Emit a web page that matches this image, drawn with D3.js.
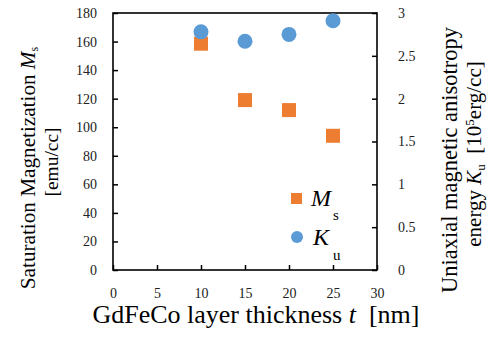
<!DOCTYPE html>
<html>
<head>
<meta charset="utf-8">
<script src="https://cdn.jsdelivr.net/npm/d3@7"></script>
<style>
  body { margin: 0; background: #fff; }
  text { font-family: "Liberation Serif", "Times New Roman", serif; }
</style>
</head>
<body>
<div id="chart"></div>
<script>
    // data
    var thickness = [10, 15, 20, 25];
    var msValues = [158.5, 119, 112, 94];
    var kuValues = [2.78, 2.67, 2.75, 2.91];
    var xTicks = [0, 5, 10, 15, 20, 25, 30];
    var yLeftTicks = [0, 20, 40, 60, 80, 100, 120, 140, 160, 180];
    var yRightTicks = [0, 0.5, 1, 1.5, 2, 2.5, 3];

    var width = 492, height = 342;
    var margin = { left: 113, right: 115, top: 13, bottom: 72 };

    var svg = d3.select("#chart").append("svg")
        .attr("width", width)
        .attr("height", height);

    var x = d3.scaleLinear().domain([0, 30]).range([margin.left, width - margin.right]);
    var yL = d3.scaleLinear().domain([0, 180]).range([height - margin.bottom, margin.top]);
    var yR = d3.scaleLinear().domain([0, 3]).range([height - margin.bottom, margin.top]);

    var x0 = x.range()[0], x1 = x.range()[1];
    var y0 = yL.range()[0], y1 = yL.range()[1];

    // axes (ticks inward)
    var bottom = svg.append("g").attr("transform", "translate(0," + y0 + ")")
        .call(d3.axisBottom(x).tickValues(xTicks).tickSizeInner(-5).tickSizeOuter(0).tickPadding(18));
    var left = svg.append("g").attr("transform", "translate(" + x0 + ",0)")
        .call(d3.axisLeft(yL).tickValues(yLeftTicks).tickSizeInner(-5).tickSizeOuter(0).tickPadding(16));
    var right = svg.append("g").attr("transform", "translate(" + x1 + ",0)")
        .call(d3.axisRight(yR).tickValues(yRightTicks).tickFormat(d3.format("")).tickSizeInner(-5).tickSizeOuter(0).tickPadding(21));

    [bottom, left, right].forEach(function (g) {
        g.attr("font-family", "Liberation Serif").attr("font-size", 14);
        g.select(".domain").remove();
        g.selectAll("line").attr("stroke", "#000").attr("stroke-width", 1.5);
        g.selectAll("text").attr("fill", "#222");
    });

    // frame
    svg.append("rect")
        .attr("x", x0).attr("y", y1)
        .attr("width", x1 - x0).attr("height", y0 - y1)
        .attr("fill", "none").attr("stroke", "#000").attr("stroke-width", 1.6);

    // Ms squares
    var sq = 14;
    svg.append("g").selectAll("rect")
        .data(thickness)
        .enter().append("rect")
        .attr("x", function (d) { return x(d) - sq / 2; })
        .attr("y", function (d, i) { return yL(msValues[i]) - sq / 2; })
        .attr("width", sq).attr("height", sq)
        .attr("fill", "#ED7D31");

    // Ku circles
    svg.append("g").selectAll("circle")
        .data(thickness)
        .enter().append("circle")
        .attr("cx", function (d) { return x(d); })
        .attr("cy", function (d, i) { return yR(kuValues[i]); })
        .attr("r", 7.5)
        .attr("fill", "#5B9BD5");

    // legend
    svg.append("rect").attr("x", 291).attr("y", 193).attr("width", 11).attr("height", 11).attr("fill", "#ED7D31");
    svg.append("circle").attr("cx", 297).attr("cy", 237).attr("r", 6).attr("fill", "#5B9BD5");
    svg.append("text").attr("x", 311).attr("y", 206).attr("font-size", "24px").attr("font-style", "italic").text("M");
    svg.append("text").attr("x", 333).attr("y", 220).attr("font-size", "15px").text("s");
    svg.append("text").attr("x", 313).attr("y", 245).attr("font-size", "24px").attr("font-style", "italic").text("K");
    svg.append("text").attr("x", 333).attr("y", 260).attr("font-size", "15px").text("u");

    // stretch a title's font size so it spans the same length as in the picture
    function fit(t, len) {
        var fs = parseFloat(t.attr("font-size"));
        var w = t.node().getComputedTextLength();
        t.attr("font-size", (fs * len / w).toFixed(2) + "px");
    }

    // x title
    var xt = svg.append("text").attr("x", 256).attr("y", 323)
        .attr("text-anchor", "middle").attr("font-size", "25px");
    xt.append("tspan").text("GdFeCo layer thickness ");
    xt.append("tspan").attr("font-style", "italic").text("t");
    xt.append("tspan").text("\u00a0 [nm]");
    fit(xt, 327);

    // left title
    var lt = svg.append("text").attr("transform", "translate(35,168) rotate(-90)")
        .attr("text-anchor", "middle").attr("font-size", "19.5px");
    lt.append("tspan").text("Saturation Magnetization ");
    lt.append("tspan").attr("font-style", "italic").text("M");
    lt.append("tspan").attr("font-size", "12px").attr("dy", 3).text("s");
    fit(lt, 243);
    var lt2 = svg.append("text").attr("transform", "translate(58,162) rotate(-90)")
        .attr("text-anchor", "middle").attr("font-size", "19.5px").text("[emu/cc]");
    fit(lt2, 69);

    // right title
    var rt1 = svg.append("text").attr("transform", "translate(457,160) rotate(-90)")
        .attr("text-anchor", "middle").attr("font-size", "20px").text("Uniaxial magnetic anisotropy");
    fit(rt1, 266);
    var rt = svg.append("text").attr("transform", "translate(481,154) rotate(-90)")
        .attr("text-anchor", "middle").attr("font-size", "20px");
    rt.append("tspan").text("energy ");
    rt.append("tspan").attr("font-style", "italic").text("K");
    rt.append("tspan").attr("font-size", "13px").attr("dy", 4).text("u");
    rt.append("tspan").attr("dy", -4).text("\u00a0 [10");
    rt.append("tspan").attr("font-size", "13px").attr("dy", -7).text("5");
    rt.append("tspan").attr("dy", 7).text("erg/cc]");
    rt.attr("font-size", "21px");
</script>
</body>
</html>
